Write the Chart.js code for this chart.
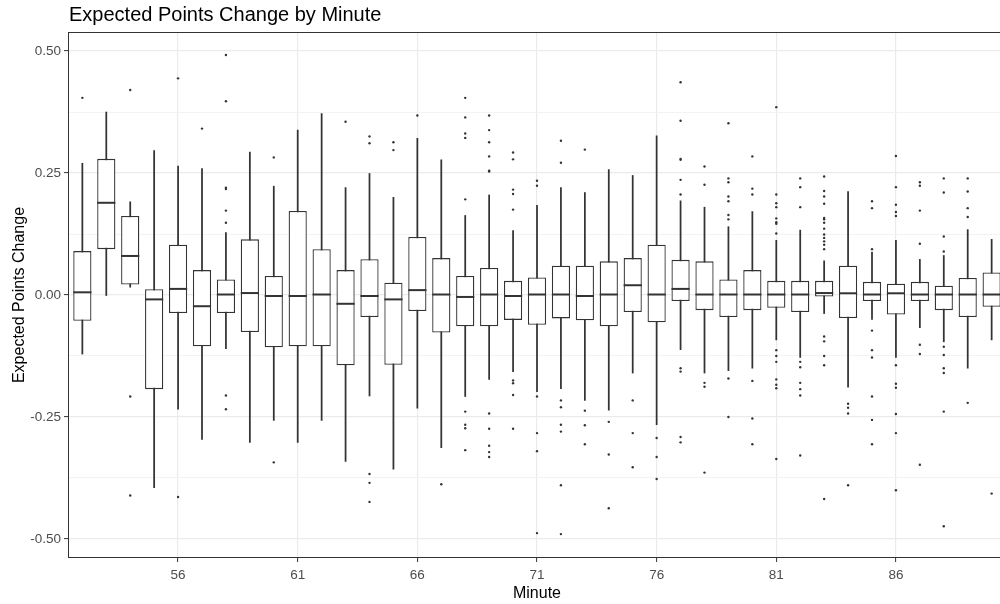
<!DOCTYPE html>
<html lang="en">
<head>
  <meta charset="UTF-8">
  <title>Expected Points Change by Minute</title>
  <script src="https://cdn.jsdelivr.net/npm/chart.js"></script>
  <style>
    html, body { margin: 0; padding: 0; background: #fff; overflow: hidden; }
    #wrap { width: 1010px; height: 604px; }
  </style>
</head>
<body>
  <div id="wrap"><canvas id="chart" width="1010" height="604"></canvas></div>

  <script>
    // values
    const minutes = [52, 53, 54, 55, 56, 57, 58, 59, 60, 61, 62, 63, 64, 65, 66, 67, 68, 69, 70, 71,
                     72, 73, 74, 75, 76, 77, 78, 79, 80, 81, 82, 83, 84, 85, 86, 87, 88, 89, 90];
    const whiskerLow = [-0.121, -0.001, 0.016, -0.395, -0.234, -0.296, -0.110, -0.302, -0.257, -0.302,
                        -0.257, -0.341, -0.207, -0.357, -0.232, -0.313, -0.208, -0.173, -0.157, -0.198,
                        -0.192, -0.216, -0.236, -0.160, -0.266, -0.112, -0.160, -0.155, -0.150, -0.092,
                        -0.128, -0.038, -0.189, -0.050, -0.128, -0.067, -0.096, -0.150, -0.092];
    const q1 = [-0.053, 0.094, 0.0215, -0.193, -0.037, -0.105, -0.037, -0.076, -0.107, -0.105,
                -0.105, -0.144, -0.045, -0.143, -0.033, -0.077, -0.064, -0.064, -0.051, -0.061,
                -0.048, -0.052, -0.064, -0.035, -0.056, -0.0125, -0.031, -0.045, -0.031, -0.026,
                -0.035, -0.003, -0.047, -0.0125, -0.040, -0.0125, -0.031, -0.045, -0.024];
    const medians = [0.0055, 0.189, 0.080, -0.009, 0.0125, -0.023, 0.001, 0.004, -0.002, -0.002,
                     0.001, -0.018, -0.002, -0.009, 0.010, 0.001, -0.004, 0.001, -0.002, 0.001,
                     0.001, -0.002, 0.001, 0.020, 0.001, 0.0125, 0.001, 0.001, 0.001, 0.001,
                     0.001, 0.004, 0.0035, 0.001, 0.0035, 0.001, 0.001, 0.001, 0.001];
    const q3 = [0.090, 0.279, 0.162, 0.012, 0.103, 0.051, 0.032, 0.114, 0.039, 0.172,
                0.094, 0.051, 0.0735, 0.025, 0.119, 0.0756, 0.039, 0.0555, 0.029, 0.036,
                0.060, 0.060, 0.069, 0.0756, 0.103, 0.072, 0.069, 0.032, 0.051, 0.029,
                0.029, 0.029, 0.060, 0.027, 0.023, 0.027, 0.019, 0.035, 0.046];
    const whiskerHigh = [0.270, 0.375, 0.191, 0.296, 0.264, 0.259, 0.128, 0.293, 0.223, 0.338,
                         0.372, 0.220, 0.249, 0.200, 0.321, 0.277, 0.163, 0.205, 0.132, 0.184,
                         0.220, 0.210, 0.257, 0.245, 0.326, 0.193, 0.180, 0.140, 0.171, 0.112,
                         0.133, 0.070, 0.212, 0.088, 0.112, 0.073, 0.081, 0.134, 0.114];
    const outliers = [
      [0.404],
      [],
      [0.420, -0.208, -0.411],
      [],
      [0.444, -0.414],
      [0.341],
      [0.492, 0.397, 0.220, 0.217, 0.173, 0.148, -0.206, -0.234],
      [],
      [0.282, -0.343],
      [],
      [],
      [0.355],
      [0.325, 0.311, -0.367, -0.385, -0.424],
      [0.313, 0.297],
      [0.368],
      [-0.388],
      [0.404, 0.364, 0.331, 0.322, 0.196, -0.239, -0.266, -0.273, -0.318],
      [0.368, 0.338, 0.313, 0.284, 0.255, 0.253, -0.243, -0.274, -0.309, -0.322, -0.332],
      [0.292, 0.278, 0.216, 0.207, 0.175, -0.175, -0.181, -0.205, -0.274],
      [0.234, 0.224, -0.208, -0.283, -0.320, -0.488],
      [0.316, 0.271, -0.216, -0.230, -0.266, -0.280, -0.390, -0.490],
      [0.298, -0.237, -0.267, -0.306],
      [-0.260, -0.327, -0.437],
      [-0.216, -0.283, -0.353],
      [-0.293, -0.332, -0.377],
      [0.436, 0.357, 0.279, 0.277, 0.236, 0.206, -0.150, -0.157, -0.291, -0.302],
      [0.2635, 0.226, -0.180, -0.188, -0.364],
      [0.352, 0.239, 0.231, 0.202, 0.192, 0.164, 0.155, -0.171, -0.250],
      [0.284, 0.218, 0.206, -0.176, -0.253, -0.306],
      [0.385, 0.206, 0.188, 0.180, 0.157, 0.149, 0.146, 0.126, -0.113, -0.125, -0.137, -0.173, -0.184, -0.191, -0.336],
      [0.239, 0.221, 0.180, -0.137, -0.148, -0.180, -0.193, -0.206, -0.329],
      [0.243, 0.213, 0.202, 0.187, 0.158, 0.155, 0.148, 0.136, 0.124, 0.117, 0.110, 0.103, 0.094, -0.085, -0.095, -0.125, -0.144, -0.418],
      [-0.223, -0.231, -0.243, -0.390],
      [0.192, 0.178, 0.094, -0.073, -0.113, -0.128, -0.208, -0.256, -0.306],
      [0.285, 0.221, 0.185, 0.170, 0.162, -0.144, -0.182, -0.190, -0.244, -0.283, -0.400],
      [0.231, 0.224, 0.173, 0.105, -0.102, -0.121, -0.348],
      [0.239, 0.210, 0.120, 0.089, -0.106, -0.123, -0.150, -0.160, -0.239, -0.474],
      [0.239, 0.212, 0.178, 0.160, -0.221],
      [-0.407]
    ];
    const xTicks = [56, 61, 66, 71, 76, 81, 86];
    const yTicks = [-0.5, -0.375, -0.25, -0.125, 0, 0.125, 0.25, 0.375, 0.5];
    const yMajor = [-0.5, -0.25, 0, 0.25, 0.5];

    const ink = '#333333';
    const isMajor = v => yMajor.some(m => Math.abs(m - v) < 1e-9);

    Chart.defaults.font.family = '"Liberation Sans", Arial, sans-serif';

    // median bars, panel border and plot title
    const boxExtras = {
      id: 'boxExtras',
      afterDatasetsDraw(chart) {
        const { ctx, chartArea: a, scales: { y } } = chart;
        const boxes = chart.getDatasetMeta(1).data;
        ctx.save();
        ctx.beginPath();
        ctx.rect(a.left, a.top, a.right - a.left, a.bottom - a.top);
        ctx.clip();
        ctx.strokeStyle = ink;
        ctx.lineWidth = 2;
        medians.forEach((m, i) => {
          const bar = boxes[i];
          const cy = y.getPixelForValue(m);
          ctx.beginPath();
          ctx.moveTo(bar.x - bar.width / 2, cy);
          ctx.lineTo(bar.x + bar.width / 2, cy);
          ctx.stroke();
        });
        ctx.restore();
      },
      afterDraw(chart) {
        const { ctx, chartArea: a } = chart;
        ctx.save();
        ctx.strokeStyle = ink;
        ctx.lineWidth = 1;
        ctx.strokeRect(a.left + 0.5, a.top + 0.5, a.right - a.left - 1, a.bottom - a.top - 1);
        ctx.fillStyle = '#000';
        ctx.font = '20px "Liberation Sans", Arial, sans-serif';
        ctx.textBaseline = 'alphabetic';
        ctx.fillText('Expected Points Change by Minute', a.left + 1, 21);
        ctx.restore();
      }
    };

    new Chart(document.getElementById('chart'), {
      type: 'bar',
      data: {
        datasets: [
          {
            type: 'scatter',
            data: outliers.flatMap((vals, i) => vals.map(v => ({ x: minutes[i], y: v }))),
            pointRadius: 1.2,
            pointBackgroundColor: ink,
            pointBorderWidth: 0,
            order: 0
          },
          {
            data: minutes.map((m, i) => ({ x: m, y: [q1[i], q3[i]] })),
            backgroundColor: '#ffffff',
            borderColor: ink,
            borderWidth: 1.3,
            borderSkipped: false,
            grouped: false,
            barPercentage: 0.76,
            categoryPercentage: 1,
            order: 1
          },
          {
            data: minutes.map((m, i) => ({ x: m, y: [whiskerLow[i], whiskerHigh[i]] })),
            backgroundColor: ink,
            borderWidth: 0,
            grouped: false,
            barThickness: 1.1,
            order: 2
          }
        ]
      },
      options: {
        responsive: false,
        animation: false,
        devicePixelRatio: 1,
        layout: { padding: { top: 32, right: 3, left: 0, bottom: 0 } },
        plugins: { legend: { display: false }, tooltip: { enabled: false }, title: { display: false } },
        scales: {
          x: {
            type: 'linear',
            min: 51.4,
            max: 90.6,
            offset: false,
            afterBuildTicks: s => { s.ticks = xTicks.map(v => ({ value: v })); },
            afterFit: s => { s.height = 46; },
            grid: { offset: false, color: '#ebebeb', lineWidth: 1.2, tickColor: ink, tickLength: 4, tickWidth: 1 },
            border: { display: false },
            ticks: { color: '#4d4d4d', font: { size: 13.5 }, padding: 5, maxRotation: 0, autoSkip: false,
                     callback: v => String(v) },
            title: { display: true, text: 'Minute', color: '#000', font: { size: 16 }, padding: { top: 0, bottom: 1 } }
          },
          y: {
            type: 'linear',
            min: -0.539,
            max: 0.539,
            afterBuildTicks: s => { s.ticks = yTicks.map(v => ({ value: v })); },
            afterFit: s => { s.width = 68; },
            grid: {
              color: c => isMajor(c.tick.value) ? '#ebebeb' : '#f3f3f3',
              lineWidth: c => isMajor(c.tick.value) ? 1.2 : 1,
              tickColor: c => isMajor(c.tick.value) ? ink : 'rgba(0,0,0,0)',
              tickLength: 4,
              tickWidth: 1
            },
            border: { display: false },
            ticks: { color: '#4d4d4d', font: { size: 13.5 }, padding: 3, autoSkip: false,
                     callback: v => isMajor(v) ? v.toFixed(2) : '' },
            title: { display: true, text: 'Expected Points Change', color: '#000', font: { size: 16 }, padding: { top: 10, bottom: 0 } }
          }
        }
      },
      plugins: [boxExtras]
    });
  </script>
</body>
</html>
